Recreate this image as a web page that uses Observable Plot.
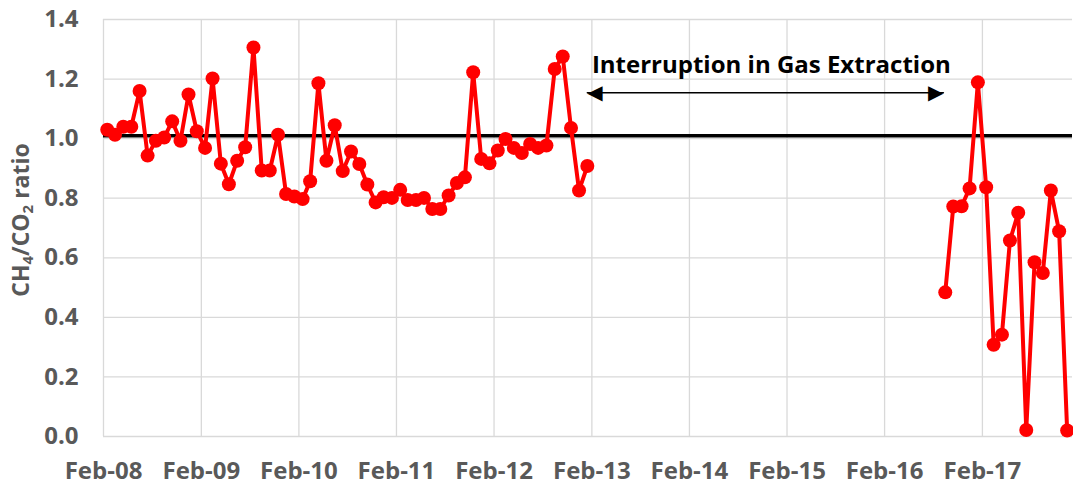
<!DOCTYPE html>
<html>
<head>
<meta charset="utf-8">
<script src="https://cdn.jsdelivr.net/npm/d3@7"></script>
<script src="https://cdn.jsdelivr.net/npm/@observablehq/plot@0.6"></script>
<style>
  html, body { margin: 0; padding: 0; background: #fff; }
</style>
</head>
<body>
<div id="chart"></div>
<script>
// Monthly CH4/CO2 ratio, Feb 2008 – Jan 2013 (first period)
const period1Start = "2008-02-15";
const period1Values = [
  1.03, 1.013, 1.04, 1.04, 1.16, 0.943, 0.993, 1.004, 1.058, 0.993, 1.148, 1.025,
  0.969, 1.202, 0.916, 0.847, 0.926, 0.971, 1.306, 0.893, 0.893, 1.013, 0.814, 0.806,
  0.797, 0.857, 1.186, 0.926, 1.045, 0.891, 0.957, 0.915, 0.846, 0.786, 0.803, 0.801,
  0.828, 0.794, 0.794, 0.801, 0.764, 0.764, 0.809, 0.851, 0.87, 1.223, 0.932, 0.917,
  0.96, 0.999, 0.969, 0.952, 0.982, 0.969, 0.977, 1.234, 1.276, 1.036, 0.826, 0.908
];
// Monthly CH4/CO2 ratio, Sep 2016 – Dec 2017 (after interruption)
const period2Start = "2016-09-15";
const period2Values = [
  0.484, 0.772, 0.773, 0.833, 1.189, 0.837, 0.308, 0.342,
  0.658, 0.751, 0.022, 0.585, 0.549, 0.826, 0.689, 0.02
];
const referenceRatio = [1.01];
const yTicks = [0, 0.2, 0.4, 0.6, 0.8, 1.0, 1.2, 1.4];
const xTickYears = [2008, 2009, 2010, 2011, 2012, 2013, 2014, 2015, 2016, 2017];
const annotationText = "Interruption in Gas Extraction";
const annotationStart = "2013-02-01";
const arrowStart = "2013-01-15";
const arrowEnd = "2016-09-08";
const arrowY = 1.154;
const annotationY = 1.245;

const toRows = (start, values, period) =>
  values.map((v, i) => ({date: d3.utcMonth.offset(new Date(start), i), value: v, period}));
const data = [...toRows(period1Start, period1Values, "a"), ...toRows(period2Start, period2Values, "b")];
const xTicks = xTickYears.map(y => new Date(Date.UTC(y, 1, 1)));
const arrow = [{date: new Date(arrowStart), value: arrowY}, {date: new Date(arrowEnd), value: arrowY}];

const chart = Plot.plot({
  width: 1073,
  height: 485,
  marginLeft: 103,
  marginRight: 1,
  marginTop: 19,
  marginBottom: 49,
  style: {fontFamily: "'Open Sans', sans-serif", fontSize: "24px", fontWeight: "bold", color: "#595959", background: "#fff"},
  x: {type: "utc", domain: [new Date("2008-02-01"), new Date("2018-01-04")], ticks: xTicks,
      tickFormat: d3.utcFormat("%b-%y"), tickSize: 0, tickPadding: 25, label: null},
  y: {domain: [0, 1.4], ticks: yTicks, tickFormat: d3.format(".1f"), tickSize: 0, tickPadding: 25, label: null},
  marks: [
    Plot.ruleY(yTicks, {stroke: "#d9d9d9", strokeWidth: 1.3}),
    Plot.ruleX(xTicks, {stroke: "#d9d9d9", strokeWidth: 1.3}),
    Plot.ruleY(referenceRatio, {stroke: "#000", strokeWidth: 3.5}),
    Plot.line(data, {x: "date", y: "value", z: "period", stroke: "#ff0000", strokeWidth: 4}),
    Plot.dot(data, {x: "date", y: "value", r: 7, fill: "#ff0000"}),
    Plot.line(arrow, {x: "date", y: "value", stroke: "#000", strokeWidth: 1.5}),
    Plot.text([arrow[0]], {x: "date", y: "value", text: () => "◀", textAnchor: "start", fill: "#000", fontSize: 20, fontFamily: "DejaVu Sans", fontWeight: "normal"}),
    Plot.text([arrow[1]], {x: "date", y: "value", text: () => "▶", textAnchor: "end", fill: "#000", fontSize: 20, fontFamily: "DejaVu Sans", fontWeight: "normal"}),
    Plot.text([{date: new Date(annotationStart), value: annotationY}], {x: "date", y: "value", text: () => annotationText,
      textAnchor: "start", fill: "#000", fontSize: 24, fontWeight: "bold"})
  ]
});

document.getElementById("chart").appendChild(chart);

// Y-axis title with subscripts
const svg = d3.select(chart);
const title = svg.append("text")
  .attr("transform", "translate(21,220) rotate(-90)")
  .attr("text-anchor", "middle")
  .attr("dy", "0.35em")
  .attr("fill", "#595959")
  .style("font-family", "'Open Sans', sans-serif")
  .style("font-weight", "bold")
  .style("font-size", "23px");
title.append("tspan").text("CH");
title.append("tspan").attr("baseline-shift", "-25%").style("font-size", "15px").text("4");
title.append("tspan").text("/CO");
title.append("tspan").attr("baseline-shift", "-25%").style("font-size", "15px").text("2");
title.append("tspan").text(" ratio");
</script>
</body>
</html>
